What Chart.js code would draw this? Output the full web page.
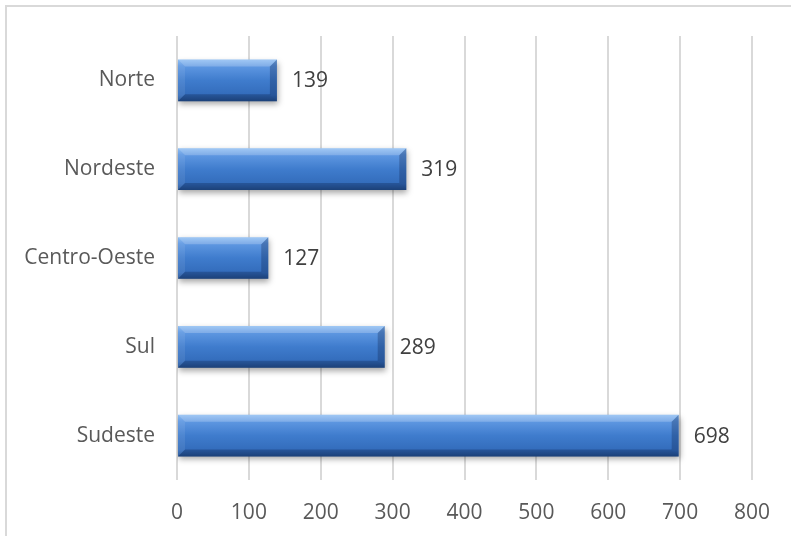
<!DOCTYPE html>
<html lang="pt">
<head>
    <meta charset="UTF-8">
    <title>Regiões</title>
    <script src="https://cdn.jsdelivr.net/npm/chart.js"></script>
    <style>
        html, body { margin: 0; padding: 0; background: #fff; overflow: hidden; }
        #frame { position: absolute; left: 5px; top: 5px; width: 900px; height: 700px; border: 2px solid #d9d9d9; }
        #wrap { position: absolute; left: 0; top: 0; width: 791px; height: 536px; }
    </style>
</head>
<body>
    <div id="frame"></div>
    <div id="wrap"><canvas id="chart" width="791" height="536"></canvas></div>

    <script>
        const regions = ["Norte", "Nordeste", "Centro-Oeste", "Sul", "Sudeste"];
        const counts = [139, 319, 127, 289, 698];
        const xTicks = [0, 100, 200, 300, 400, 500, 600, 700, 800];

        const FONT = "'Open Sans', sans-serif";
        const FONT_SIZE = 21;

        // vertical gradient for the bar body, centred on the category row
        function barFill(context) {
            const chart = context.chart;
            const yScale = chart.scales.y;
            if (!chart.chartArea || !yScale || context.dataIndex === undefined) return '#3c78c8';
            const yc = yScale.getPixelForValue(context.dataIndex);
            const h = (chart.chartArea.bottom - chart.chartArea.top) / regions.length * 0.47;
            if (!isFinite(yc) || !isFinite(h)) return '#3c78c8';
            const g = chart.ctx.createLinearGradient(0, yc - h / 2, 0, yc + h / 2);
            g.addColorStop(0, '#86b9f2');
            g.addColorStop(0.15, '#5f98e2');
            g.addColorStop(0.5, '#3f7ccd');
            g.addColorStop(0.85, '#336cbb');
            g.addColorStop(1, '#24508f');
            return g;
        }

        // drop shadow under the bars, bevel edges and value labels
        const barDecor = {
            id: 'barDecor',
            beforeDatasetsDraw(chart) {
                const ctx = chart.ctx;
                ctx.save();
                ctx.shadowColor = 'rgba(0,0,0,0.35)';
                ctx.shadowBlur = 6;
                ctx.shadowOffsetX = 1;
                ctx.shadowOffsetY = 3;
            },
            afterDatasetsDraw(chart) {
                const ctx = chart.ctx;
                ctx.restore();
                const meta = chart.getDatasetMeta(0);
                meta.data.forEach((bar, i) => {
                    const x0 = bar.base, x1 = bar.x;
                    const y0 = bar.y - bar.height / 2, y1 = bar.y + bar.height / 2;
                    const b = 7;
                    const poly = (pts, color) => {
                        ctx.beginPath();
                        ctx.moveTo(pts[0][0], pts[0][1]);
                        pts.slice(1).forEach(p => ctx.lineTo(p[0], p[1]));
                        ctx.closePath();
                        ctx.fillStyle = color;
                        ctx.fill();
                    };
                    poly([[x0, y0], [x1, y0], [x1 - b, y0 + b], [x0 + b, y0 + b]], 'rgba(255,255,255,0.22)');
                    poly([[x0, y0], [x0 + b, y0 + b], [x0 + b, y1 - b], [x0, y1]], 'rgba(255,255,255,0.08)');
                    poly([[x1, y0], [x1, y1], [x1 - b, y1 - b], [x1 - b, y0 + b]], 'rgba(10,30,70,0.28)');
                    poly([[x0, y1], [x1, y1], [x1 - b, y1 - b], [x0 + b, y1 - b]], 'rgba(10,30,70,0.30)');

                    ctx.fillStyle = '#404040';
                    ctx.font = FONT_SIZE + 'px ' + FONT;
                    ctx.textAlign = 'left';
                    ctx.textBaseline = 'middle';
                    ctx.fillText(String(counts[i]), x1 + 15, bar.y + 1);
                });
            }
        };

        new Chart(document.getElementById('chart').getContext('2d'), {
            type: 'bar',
            data: {
                labels: regions,
                datasets: [{
                    data: counts,
                    backgroundColor: barFill,
                    borderWidth: 0,
                    categoryPercentage: 1,
                    barPercentage: 0.47
                }]
            },
            options: {
                indexAxis: 'y',
                responsive: false,
                animation: false,
                layout: { padding: { top: 36, right: 39, bottom: 0, left: 0 } },
                plugins: { legend: { display: false }, tooltip: { enabled: false } },
                scales: {
                    x: {
                        min: 0,
                        max: 800,
                        afterBuildTicks(scale) { scale.ticks = xTicks.map(v => ({ value: v })); },
                        afterFit(scale) { scale.height = 56; },
                        grid: { color: '#d9d9d9', lineWidth: 2, drawTicks: false },
                        border: { display: false },
                        ticks: { color: '#595959', padding: 20, font: { family: FONT, size: FONT_SIZE } }
                    },
                    y: {
                        afterFit(scale) { scale.width = 177; },
                        grid: { display: false, drawTicks: false },
                        border: { display: false },
                        ticks: { color: '#595959', padding: 22, font: { family: FONT, size: FONT_SIZE } }
                    }
                }
            },
            plugins: [barDecor]
        });
    </script>
</body>
</html>
